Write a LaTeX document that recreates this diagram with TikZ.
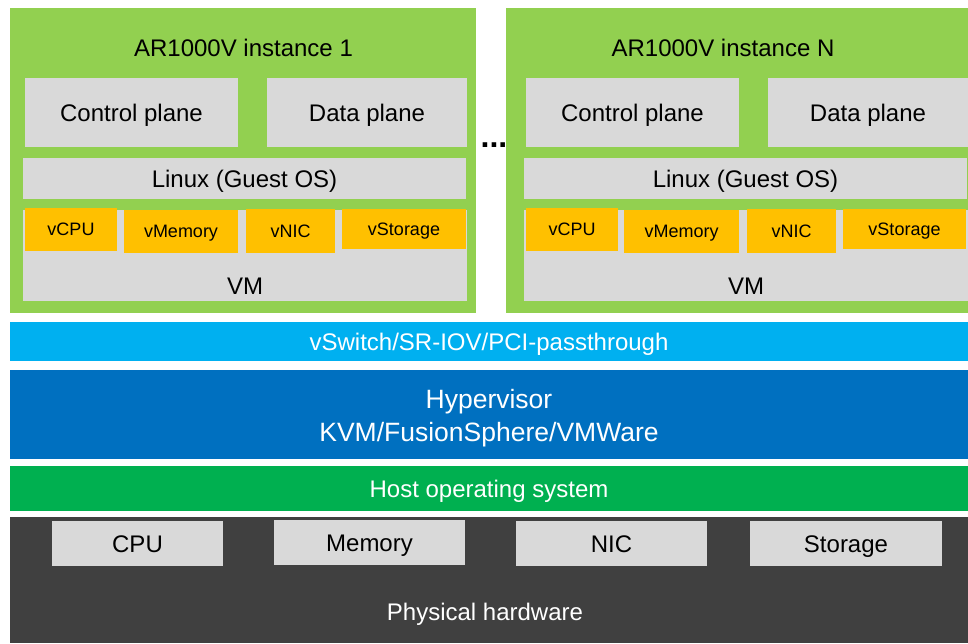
\documentclass[tikz,border=0pt]{standalone}
\usepackage{fontspec}
\setmainfont{Liberation Sans}
\usetikzlibrary{positioning}

\definecolor{instgreen}{HTML}{92D050}
\definecolor{boxgray}{HTML}{D9D9D9}
\definecolor{vorange}{HTML}{FFC000}
\definecolor{switchblue}{HTML}{00B0F0}
\definecolor{hyperblue}{HTML}{0070C0}
\definecolor{hostgreen}{HTML}{00B050}
\definecolor{hwgray}{HTML}{404040}

\begin{document}
\begin{tikzpicture}[
    x=1pt, y=-1pt, % One unit is one pixel, y going down
    % Define box style
    box/.style={
        rectangle, % Rectangle shape
        inner sep=0pt, % No padding
        text height=17.2pt, % Capitals centred in the box
        text depth=0pt,
        font=\fontsize{24}{33}\selectfont % Default text size
      },
    % Define layer styles
    instance/.style={box, fill=instgreen},
    graybox/.style={box, fill=boxgray},
    vbox/.style={box, fill=vorange, text height=12.9pt, font=\fontsize{18}{22}\selectfont},
    layer/.style={box, minimum width=958, text=white},
    txt/.style={box}
  ]

  \useasboundingbox (0,0) rectangle (968,643);

  % AR1000V instance 1
  \node[instance, minimum width=466, minimum height=305] (inst1) at (243,160.5) {}; % Green frame on the left
  \node[txt] (title1) at (243.5,48) {AR1000V instance 1};
  \node[graybox, minimum width=213, minimum height=69] (cp1) at (131.5,112.5) {Control plane};
  \node[graybox, minimum width=200, minimum height=69] (dp1) at (367,112.5) {Data plane};
  \node[graybox, minimum width=443, minimum height=41] (os1) at (244.5,178.5) {Linux (Guest OS)};
  \node[graybox, minimum width=444, minimum height=91] (vm1) at (245,255.5) {}; % VM frame, label below the v-boxes
  \node[txt] (vmt1) at (245,286) {VM};
  \node[vbox, minimum width=92, minimum height=43] (vcpu1) at (71,229.5) {vCPU};
  \node[vbox, minimum width=114, minimum height=43] (vmem1) at (181,231.5) {vMemory};
  \node[vbox, minimum width=89, minimum height=44] (vnic1) at (290.5,231) {vNIC};
  \node[vbox, minimum width=124, minimum height=40] (vsto1) at (404,229) {vStorage};

  % Dots between the instances
  \node[txt, text height=23pt, font=\fontsize{32}{32}\selectfont\bfseries] (dots) at (494,135.5) {...};

  % AR1000V instance N
  \node[instance, minimum width=462, minimum height=305] (instN) at (737,160.5) {}; % Green frame on the right
  \node[txt] (titleN) at (723,48) {AR1000V instance N};
  \node[graybox, minimum width=213, minimum height=69] (cpN) at (632.5,112.5) {Control plane};
  \node[graybox, minimum width=200, minimum height=69] (dpN) at (868,112.5) {Data plane};
  \node[graybox, minimum width=443, minimum height=41] (osN) at (745.5,178.5) {Linux (Guest OS)};
  \node[graybox, minimum width=444, minimum height=91] (vmN) at (746,255.5) {};
  \node[txt] (vmtN) at (746,286) {VM};
  \node[vbox, minimum width=92, minimum height=43] (vcpuN) at (572,229.5) {vCPU};
  \node[vbox, minimum width=115, minimum height=43] (vmemN) at (681.5,231.5) {vMemory};
  \node[vbox, minimum width=89, minimum height=44] (vnicN) at (791.5,231) {vNIC};
  \node[vbox, minimum width=123, minimum height=40] (vstoN) at (904.5,229) {vStorage};

  % Shared layers
  \node[layer, fill=switchblue, minimum height=39] (vswitch) at (489,341.5) {vSwitch/SR-IOV/PCI-passthrough};
  \node[layer, fill=hyperblue, minimum height=89] (hyper) at (489,414.5) {}; % Hypervisor band, text on top
  \node[inner sep=0pt, align=center, text=white, font=\fontsize{26.5}{33}\selectfont] (hypert) at (489,418.5) {Hypervisor\\KVM/FusionSphere/VMWare};
  \node[layer, fill=hostgreen, minimum height=45] (hostos) at (489,488.5) {Host operating system};
  \node[layer, fill=hwgray, minimum height=126] (hw) at (489,580) {}; % Dark frame for the hardware
  \node[txt, text=white] (hwt) at (485,612) {Physical hardware};

  % Hardware parts
  \node[graybox, minimum width=171, minimum height=45] (cpu) at (137.5,543.5) {CPU};
  \node[graybox, minimum width=191, minimum height=45] (mem) at (369.5,542.5) {Memory};
  \node[graybox, minimum width=191, minimum height=45] (nic) at (611.5,543.5) {NIC};
  \node[graybox, minimum width=192, minimum height=45] (sto) at (846,543.5) {Storage};

\end{tikzpicture}
\end{document}
